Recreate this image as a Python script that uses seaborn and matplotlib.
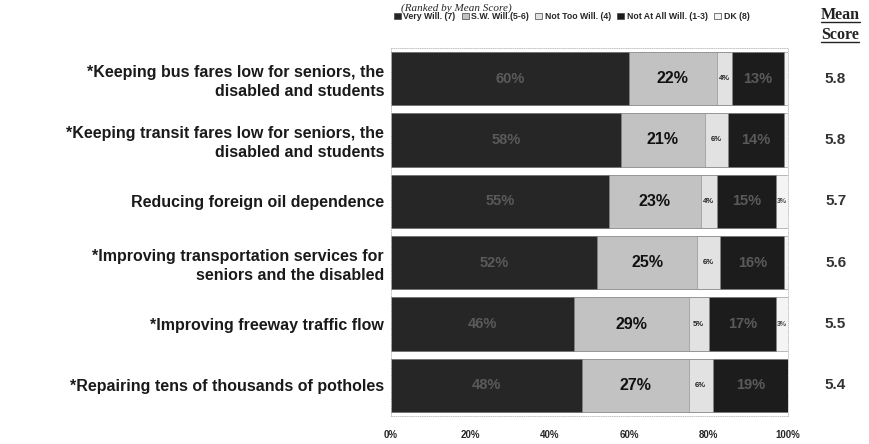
import numpy as np
import pandas as pd
import matplotlib
matplotlib.use("Agg")
import matplotlib.pyplot as plt
import seaborn as sns
from matplotlib.lines import Line2D
from matplotlib.patches import Patch

categories = [
    "*Keeping bus fares low for seniors, the\ndisabled and students",
    "*Keeping transit fares low for seniors, the\ndisabled and students",
    "Reducing foreign oil dependence",
    "*Improving transportation services for\nseniors and the disabled",
    "*Improving freeway traffic flow",
    "*Repairing tens of thousands of potholes",
]
very_will = [60, 58, 55, 52, 46, 48]
sw_will = [22, 21, 23, 25, 29, 27]
not_too = [4, 6, 4, 6, 5, 6]
not_at_all = [13, 14, 15, 16, 17, 19]
dk = [1, 1, 3, 1, 3, 0]
mean_scores = ["5.8", "5.8", "5.7", "5.6", "5.5", "5.4"]
series_names = ["Very Will. (7)", "S.W. Will.(5-6)", "Not Too Will. (4)",
                "Not At All Will. (1-3)", "DK (8)"]
xticks = [0, 20, 40, 60, 80, 100]

colors = ["#262626", "#c2c2c2", "#e2e2e2", "#1c1c1c", "#f4f4f4"]
label_colors = ["#5a5a5a", "#111111", "#222222", "#5a5a5a", "#444444"]
label_sizes = [10.5, 11.5, 5.5, 10.5, 5]

sns.set_theme(style="white")
plt.rcParams["font.family"] = ["Liberation Sans", "DejaVu Sans"]

series = [very_will, sw_will, not_too, not_at_all, dk]
df = pd.DataFrame({"category": categories})
cum = np.zeros(len(categories))
cums = []
for s in series:
    cum = cum + np.array(s)
    cums.append(cum.copy())
for i, c in enumerate(cums):
    df[f"cum{i}"] = c

fig = plt.figure(figsize=(8.7, 4.44), dpi=100)
ax = fig.add_axes([0.4494, 0.063, 0.4563, 0.829])

for i in range(len(series) - 1, -1, -1):
    sns.barplot(data=df, x=f"cum{i}", y="category", color=colors[i],
                orient="h", width=0.87, ax=ax, edgecolor="#888888",
                linewidth=0.4, saturation=1)

# segment labels
for i, s in enumerate(series):
    start = cums[i] - np.array(s)
    for r, v in enumerate(s):
        if v < 3:
            continue
        ax.text(start[r] + v / 2, r, f"{v}%", ha="center", va="center",
                fontsize=label_sizes[i], fontweight="bold",
                color=label_colors[i])

ax.set_xlim(0, 100)
ax.set_xticks(xticks)
ax.set_xticklabels([f"{t}%" for t in xticks], fontsize=7, fontweight="bold")
ax.set_xlabel("")
ax.set_ylabel("")
ax.tick_params(axis="y", length=0, pad=5)
ax.tick_params(axis="x", length=0, pad=10)
for lab in ax.get_yticklabels():
    lab.set_fontsize(11.5)
    lab.set_fontweight("bold")
    lab.set_color("#1a1a1a")
    lab.set_horizontalalignment("right")
    lab.set_multialignment("right")
    lab.set_linespacing(1.3)
for sp in ax.spines.values():
    sp.set_color("#bbbbbb")
    sp.set_linewidth(0.6)
    sp.set_linestyle(":")

# mean scores
for r, m in enumerate(mean_scores):
    ax.text(1.12, r, m, transform=ax.get_yaxis_transform(), ha="center",
            va="center", fontsize=11, fontweight="bold", color="#333333")

# legend
handles = [Patch(facecolor=colors[i], edgecolor="#444444", linewidth=0.5,
                 label=series_names[i]) for i in range(len(series))]
fig.legend(handles=handles, loc="center", bbox_to_anchor=(0.657, 0.963),
           ncol=5, frameon=False, handlelength=0.8,
           handleheight=0.8, handletextpad=0.3, columnspacing=0.7,
           prop={"weight": "bold", "size": 6.3})

# title
fig.text(0.525, 0.992, "(Ranked by Mean Score)", ha="center", va="top",
         fontsize=8, style="italic", family=["Liberation Serif"])

# Mean Score header with underline
t1 = fig.text(0.966, 0.967, "Mean", ha="center", va="center", fontsize=11.5,
              fontweight="bold", family=["Liberation Serif"], color="#222222")
t2 = fig.text(0.966, 0.922, "Score", ha="center", va="center", fontsize=11.5,
              fontweight="bold", family=["Liberation Serif"], color="#222222")
fig.canvas.draw()
renderer = fig.canvas.get_renderer()
for t in (t1, t2):
    bb = t.get_window_extent(renderer).transformed(fig.transFigure.inverted())
    fig.add_artist(Line2D([bb.x0, bb.x1], [bb.y0 + 0.002, bb.y0 + 0.002],
                          transform=fig.transFigure, color="#222222", lw=1.0))

fig.savefig("out.png", dpi=100)
